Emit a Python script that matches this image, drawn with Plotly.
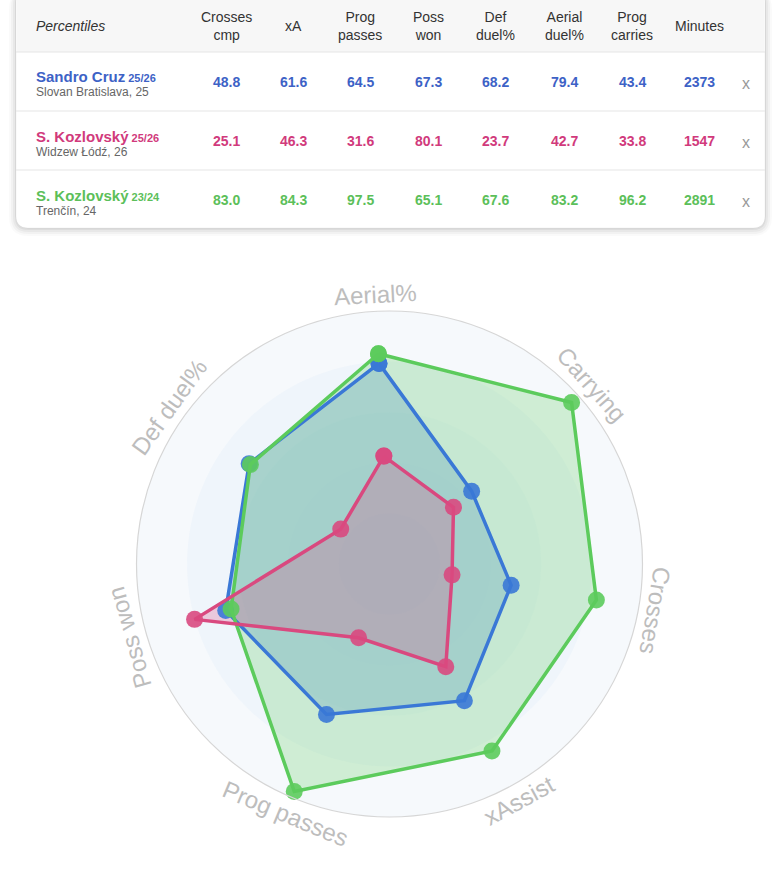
import math
import plotly.graph_objects as go

# ---------------- data ----------------
players = ["Sandro Cruz", "S. Kozlovský", "S. Kozlovský"]
seasons = ["25/26", "25/26", "23/24"]
clubs = ["Slovan Bratislava, 25", "Widzew Łódź, 26", "Trenčín, 24"]
table_headers = ["Crosses<br>cmp", "xA", "Prog<br>passes", "Poss<br>won", "Def<br>duel%",
                 "Aerial<br>duel%", "Prog<br>carries", "Minutes"]
crosses_cmp = [48.8, 25.1, 83.0]
xa = [61.6, 46.3, 84.3]
prog_passes = [64.5, 31.6, 97.5]
poss_won = [67.3, 80.1, 65.1]
def_duel = [68.2, 23.7, 67.6]
aerial_duel = [79.4, 42.7, 83.2]
prog_carries = [43.4, 33.8, 96.2]
minutes = [2373, 1547, 2891]
radar_labels = ["Aerial%", "Carrying", "Crosses", "xAssist", "Prog passes", "Poss won", "Def duel%"]

# ---------------- style ----------------
W, H = 781, 893
text_colors = ["#3d62c6", "#d13a7c", "#5cbf5a"]
line_colors = ["#3a78d6", "#d9497f", "#5ccb5c"]
fill_colors = ["rgba(58,120,214,0.25)", "rgba(217,73,127,0.25)", "rgba(92,203,92,0.25)"]
marker_colors = ["rgba(58,120,214,0.9)", "rgba(217,73,127,0.9)", "rgba(92,203,92,0.9)"]
FONT = "Liberation Sans, Arial, Helvetica, sans-serif"

cx, cy, R = 389.5, 564.0, 253.0
ROT = 93.0
N = len(radar_labels)
step = 360.0 / N


def px(x):
    return x / W


def py(y):
    return 1 - y / H


def rrect(x0, y0, x1, y1, r):
    pts = [
        f"M{px(x0 + r)},{py(y0)}",
        f"L{px(x1 - r)},{py(y0)}",
        f"Q{px(x1)},{py(y0)} {px(x1)},{py(y0 + r)}",
        f"L{px(x1)},{py(y1 - r)}",
        f"Q{px(x1)},{py(y1)} {px(x1 - r)},{py(y1)}",
        f"L{px(x0 + r)},{py(y1)}",
        f"Q{px(x0)},{py(y1)} {px(x0)},{py(y1 - r)}",
        f"L{px(x0)},{py(y0 + r)}",
        f"Q{px(x0)},{py(y0)} {px(x0 + r)},{py(y0)}",
        "Z",
    ]
    return " ".join(pts)


fig = go.Figure()

# background rings of the radar
ring_r = [100, 80, 60, 40, 20]
ring_col = ["rgba(246,249,252,1)", "rgba(225,238,250,0.35)", "rgba(225,238,250,0.35)",
            "rgba(225,238,250,0.35)", "rgba(225,238,250,0.35)"]
for rr, cc in zip(ring_r, ring_col):
    fig.add_trace(go.Barpolar(r=[rr], theta=[0], width=[360], marker=dict(color=cc, line=dict(width=0)),
                              hoverinfo="skip", showlegend=False))

series = []
for i in range(3):
    series.append([aerial_duel[i], prog_carries[i], crosses_cmp[i], xa[i], prog_passes[i],
                   poss_won[i], def_duel[i]])

thetas = [k * step for k in range(N)]
order = [0, 2, 1]
# fills first
for i in order:
    vals = series[i]
    fig.add_trace(go.Scatterpolar(
        r=vals + [vals[0]], theta=thetas + [thetas[0]], mode="none",
        fill="toself", fillcolor=fill_colors[i], hoverinfo="skip", showlegend=False,
    ))
# lines and markers on top
for i in order:
    vals = series[i]
    fig.add_trace(go.Scatterpolar(
        r=vals + [vals[0]], theta=thetas + [thetas[0]], mode="lines+markers",
        line=dict(color=line_colors[i], width=3.5),
        marker=dict(size=17, color=marker_colors[i]),
        name=f"{players[i]} {seasons[i]}", showlegend=False,
    ))

fig.update_layout(
    width=W, height=H, margin=dict(l=0, r=0, t=0, b=0),
    paper_bgcolor="white", plot_bgcolor="white",
    font=dict(family=FONT),
    polar=dict(
        domain=dict(x=[(cx - R) / W, (cx + R) / W], y=[(H - cy - R) / H, (H - cy + R) / H]),
        bgcolor="rgba(0,0,0,0)",
        radialaxis=dict(range=[0, 100], visible=False),
        angularaxis=dict(type="linear", rotation=ROT, direction="clockwise", tick0=0, dtick=step,
                         showticklabels=False, ticks="", showgrid=True, gridcolor="rgba(175,175,175,0.55)",
                         gridwidth=1, showline=True, linecolor="#d6d6d6", linewidth=1.2,
                         layer="above traces"),
        barmode="overlay",
    ),
)

shapes = []
# card shadow
for k, a in [(7, 0.02), (5, 0.03), (3, 0.04), (1, 0.05)]:
    shapes.append(dict(type="path", xref="paper", yref="paper",
                       path=rrect(16 - k, -10, 765 + k, 228 + k + 1, 12 + k),
                       fillcolor=f"rgba(0,0,0,{a})", line=dict(width=0), layer="below"))
shapes.append(dict(type="path", xref="paper", yref="paper", path=rrect(16, -10, 765, 228, 12),
                   fillcolor="white", line=dict(color="rgba(0,0,0,0.04)", width=1), layer="below"))
# header background
shapes.append(dict(type="rect", xref="paper", yref="paper", x0=px(16.5), x1=px(764.5), y0=py(52), y1=py(0),
                   fillcolor="#f7f7f7", line=dict(width=0), layer="below"))
# row dividers
for yy in [52, 111, 170]:
    shapes.append(dict(type="line", xref="paper", yref="paper", x0=px(16), x1=px(765), y0=py(yy), y1=py(yy),
                       line=dict(color="#e6e6e6", width=1.2), layer="below"))
fig.update_layout(shapes=shapes)

ann = []
col_x = [226, 293, 360, 428, 496, 564, 632, 699]
ann.append(dict(x=px(34), y=py(26), xref="paper", yref="paper", xanchor="left", yanchor="middle",
                text="<i>Percentiles</i>", showarrow=False, font=dict(size=14, color="#333", family=FONT)))
for hx, ht in zip(col_x, table_headers):
    ann.append(dict(x=px(hx), y=py(26), xref="paper", yref="paper", xanchor="center", yanchor="middle",
                    text=ht, showarrow=False, font=dict(size=14, color="#333", family=FONT)))

row_mid_y = [84, 143, 202]
row_val_y = [82, 141, 200]
for i in range(3):
    txt = (f"<b><span style='font-size:15px'>{players[i]}</span> {seasons[i]}</b>"
           f"<br><span style='font-size:12px;color:#666666'>{clubs[i]}</span>")
    ann.append(dict(x=px(34), y=py(row_mid_y[i]), xref="paper", yref="paper", xanchor="left", yanchor="middle",
                    align="left", text=txt, showarrow=False,
                    font=dict(size=11, color=text_colors[i], family=FONT)))
    vals = [crosses_cmp[i], xa[i], prog_passes[i], poss_won[i], def_duel[i], aerial_duel[i], prog_carries[i]]
    texts = [f"{v:.1f}" for v in vals] + [str(minutes[i])]
    for hx, t in zip(col_x, texts):
        ann.append(dict(x=px(hx), y=py(row_val_y[i]), xref="paper", yref="paper", xanchor="center",
                        yanchor="middle", text=f"<b>{t}</b>", showarrow=False,
                        font=dict(size=14, color=text_colors[i], family=FONT)))
    ann.append(dict(x=px(746), y=py(row_val_y[i] + 1), xref="paper", yref="paper", xanchor="center",
                    yanchor="middle", text="x", showarrow=False, font=dict(size=16, color="#999", family=FONT)))

# radar labels, oriented along the circle
L = 270
for k, lab in enumerate(radar_labels):
    th = ROT - k * step
    t = math.radians(th)
    x = cx + L * math.cos(t)
    y = cy - L * math.sin(t)
    if math.sin(t) < -0.5:
        ang = -90 - th
    else:
        ang = 90 - th
    ang = (ang + 180) % 360 - 180
    ann.append(dict(x=px(x), y=py(y), xref="paper", yref="paper", xanchor="center", yanchor="middle",
                    text=lab, textangle=ang, showarrow=False,
                    font=dict(size=24, color="#bdbdbd", family=FONT)))

fig.update_layout(annotations=ann)
fig.write_html("out.html")
